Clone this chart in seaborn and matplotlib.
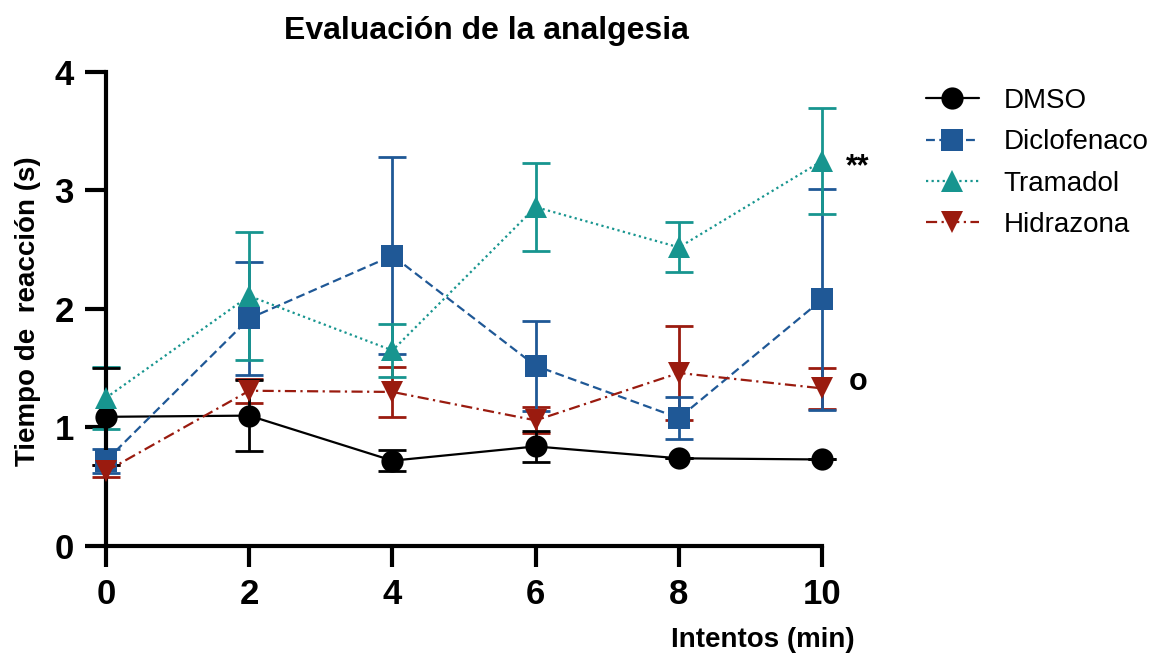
import matplotlib
matplotlib.use("Agg")
import matplotlib.pyplot as plt
import seaborn as sns
import pandas as pd
import numpy as np

# ---- data ----
minutes = [0, 2, 4, 6, 8, 10]
groups = ["DMSO", "Diclofenaco", "Tramadol", "Hidrazona"]
dmso_mean = [1.09, 1.10, 0.72, 0.84, 0.74, 0.73]
dmso_err = [0.41, 0.30, 0.09, 0.13, 0.00, 0.00]
diclo_mean = [0.72, 1.92, 2.45, 1.52, 1.08, 2.08]
diclo_err = [0.10, 0.48, 0.83, 0.38, 0.18, 0.93]
trama_mean = [1.25, 2.11, 1.65, 2.86, 2.52, 3.25]
trama_err = [0.26, 0.54, 0.22, 0.37, 0.21, 0.45]
hidra_mean = [0.63, 1.31, 1.30, 1.06, 1.46, 1.33]
hidra_err = [0.05, 0.10, 0.21, 0.11, 0.40, 0.17]
xticks = [0, 2, 4, 6, 8, 10]
yticks = [0, 1, 2, 3, 4]
annotations = [("**", 10.5, 3.2), ("o", 10.5, 1.38)]

means = {"DMSO": dmso_mean, "Diclofenaco": diclo_mean,
         "Tramadol": trama_mean, "Hidrazona": hidra_mean}
errs = {"DMSO": dmso_err, "Diclofenaco": diclo_err,
        "Tramadol": trama_err, "Hidrazona": hidra_err}

df = pd.DataFrame([{"Intentos": m, "Grupo": g, "Tiempo": v}
                   for g in groups for m, v in zip(minutes, means[g])])

colors = {"DMSO": "#000000", "Diclofenaco": "#1f5896",
          "Tramadol": "#17958f", "Hidrazona": "#9a1b0f"}
markers = {"DMSO": "o", "Diclofenaco": "s", "Tramadol": "^", "Hidrazona": "v"}
dashes = {"DMSO": "", "Diclofenaco": (4, 2), "Tramadol": (1, 1.5),
          "Hidrazona": (5, 2, 1, 2)}

sns.set_theme(style="ticks")
plt.rcParams["font.family"] = ["Liberation Sans", "DejaVu Sans"]
for k in ["text.color", "axes.labelcolor", "xtick.color", "ytick.color",
          "axes.edgecolor"]:
    plt.rcParams[k] = "black"

fig = plt.figure(figsize=(11.58, 6.56), dpi=100)
ax = fig.add_axes([0.0915, 0.1677, 0.6185, 0.7226])

# error bars first
for g in ["Hidrazona", "Diclofenaco", "Tramadol", "DMSO"]:
    ax.errorbar(minutes, means[g], yerr=errs[g], fmt="none",
                ecolor=colors[g], elinewidth=2, capsize=10, capthick=2,
                zorder=2, clip_on=False)

sns.lineplot(data=df, x="Intentos", y="Tiempo", hue="Grupo", style="Grupo",
             hue_order=groups, style_order=groups, palette=colors,
             markers=markers, dashes=dashes, markersize=16, linewidth=1.6,
             markeredgewidth=0, ax=ax, zorder=3, clip_on=False)

ax.set_xlim(0, 10)
ax.set_ylim(0, 4)
ax.set_xticks(xticks)
ax.set_yticks(yticks)
ax.set_xticklabels([str(t) for t in xticks])
ax.set_yticklabels([str(t) for t in yticks])
ax.tick_params(axis="both", length=15, width=3, direction="out", pad=8,
               color="black", labelsize=25, labelcolor="black")
for lab in ax.get_xticklabels() + ax.get_yticklabels():
    lab.set_fontweight("bold")
    lab.set_fontsize(25)
for s in ["top", "right"]:
    ax.spines[s].set_visible(False)
for s in ["left", "bottom"]:
    ax.spines[s].set_linewidth(3)
    ax.spines[s].set_color("black")

ax.set_xlabel("")
ax.set_ylabel("")
fig.text(0.659, 0.005, "Intentos (min)", fontsize=20, fontweight="bold",
         ha="center", va="bottom")
fig.text(0.024, 0.526, "Tiempo de  reacción (s)", fontsize=20, fontweight="bold",
         rotation=90, ha="center", va="center")
fig.text(0.42, 0.953, "Evaluación de la analgesia", fontsize=23,
         fontweight="bold", ha="center", va="center")

for txt, xx, yy in annotations:
    ax.text(xx, yy, txt, fontsize=22, fontweight="bold", ha="center",
            va="center", clip_on=False)

handles, labels = ax.get_legend_handles_labels()
ax.legend(handles, labels, loc="upper left", bbox_to_anchor=(1.11, 1.019),
          frameon=False, fontsize=20, handlelength=1.9, labelspacing=0.55,
          handletextpad=0.9)

fig.savefig("out.png", dpi=100)
